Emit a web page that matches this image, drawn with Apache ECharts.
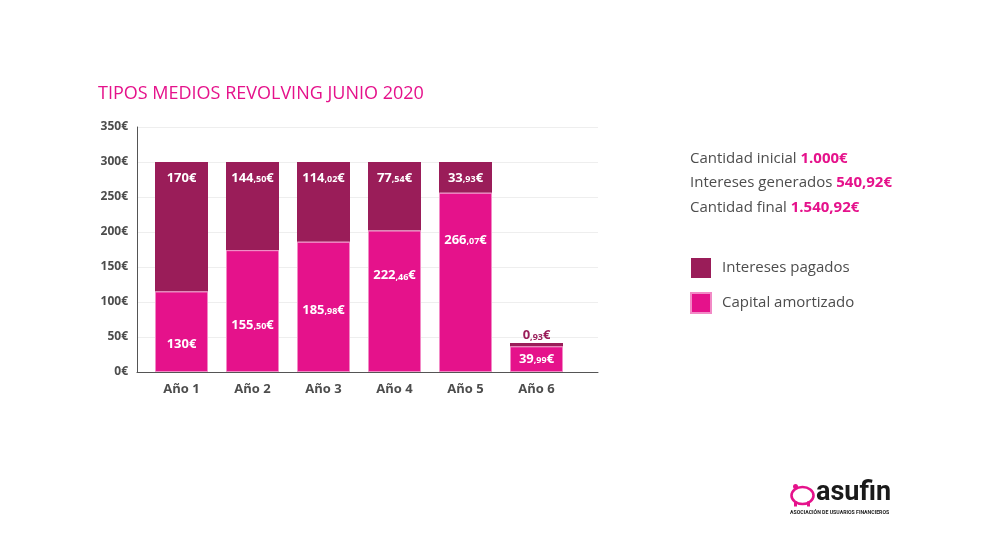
<!DOCTYPE html>
<html>
<head>
<meta charset="utf-8">
<script src="https://cdn.jsdelivr.net/npm/echarts@6/dist/echarts.min.js"></script>
<style>
html,body{margin:0;padding:0;background:#fff;}
#main{width:990px;height:558px;}
</style>
</head>
<body>
<div id="main"></div>
<script>
// ---- data ----
var categories = ['Año 1', 'Año 2', 'Año 3', 'Año 4', 'Año 5', 'Año 6'];
// bar heights as drawn in the picture
var capitalValues = [115, 174, 186, 202, 256, 36.6];
var interesValues = [185, 126, 114, 98, 44, 4.8];
// printed labels
var capitalLabels = ['130', '155,50', '185,98', '222,46', '266,07', '39,99'];
var interesLabels = ['170', '144,50', '114,02', '77,54', '33,93', '0,93'];
var yTicks = [0, 50, 100, 150, 200, 250, 300, 350];
var seriesNames = ['Intereses pagados', 'Capital amortizado'];
var summaryLines = [
  ['Cantidad inicial ', '1.000€'],
  ['Intereses generados ', '540,92€'],
  ['Cantidad final ', '1.540,92€']
];

var PINK = '#e5128b';
var PLUM = '#9a1d59';
var GRAY = '#4d4d4d';
var FONT = 'Open Sans';

function richLabel(s) {
  var parts = s.split(',');
  if (parts.length > 1) return '{a|' + parts[0] + '}{b|,' + parts[1] + '}{a|€}';
  return '{a|' + s + '€}';
}
var whiteRich = {
  a: {color: '#fff', fontSize: 13, fontWeight: 'bold', fontFamily: FONT},
  b: {color: '#fff', fontSize: 9, fontWeight: 'bold', fontFamily: FONT, padding: [3, 0, 0, 0]}
};
var plumRich = {
  a: {color: PLUM, fontSize: 13, fontWeight: 'bold', fontFamily: FONT},
  b: {color: PLUM, fontSize: 9, fontWeight: 'bold', fontFamily: FONT, padding: [3, 0, 0, 0]}
};

// label vertical offsets inside capital bars (pixels from bar top)
var capOffsets = [53, 75, 68, 45, 47, 13];

var capData = capitalValues.map(function (v, i) {
  return {
    value: v,
    label: {
      position: ['50%', capOffsets[i]],
      align: 'center', verticalAlign: 'middle',
      formatter: richLabel(capitalLabels[i]), rich: whiteRich
    }
  };
});
var intData = interesValues.map(function (v, i) {
  if (i === 5) {
    return {
      value: v,
      label: {position: 'top', distance: 1, formatter: richLabel(interesLabels[i]), rich: plumRich}
    };
  }
  return {
    value: v,
    label: {
      position: ['50%', 16],
      align: 'center', verticalAlign: 'middle',
      formatter: richLabel(interesLabels[i]), rich: whiteRich
    }
  };
});

var graphics = summaryLines.map(function (l, i) {
  return {
    type: 'text', left: 690, top: 151 + i * 24.5,
    style: {
      rich: {
        n: {fontSize: 15, fontFamily: FONT, fill: GRAY},
        v: {fontSize: 15, fontFamily: FONT, fontWeight: 'bold', fill: PINK}
      },
      text: '{n|' + l[0] + '}{v|' + l[1] + '}'
    }
  };
});
// logo
graphics.push({
  type: 'group', left: 789, top: 484,
  children: [
    {type: 'ellipse', shape: {cx: 13, cy: 11, rx: 11, ry: 8.5}, style: {fill: 'none', stroke: PINK, lineWidth: 2.6}},
    {type: 'circle', shape: {cx: 6, cy: 2, r: 2.5}, style: {fill: PINK}},
    {type: 'line', shape: {x1: 6, y1: 17, x2: 6, y2: 22}, style: {stroke: PINK, lineWidth: 3}},
    {type: 'line', shape: {x1: 19, y1: 17, x2: 19, y2: 22}, style: {stroke: PINK, lineWidth: 3}}
  ]
});
graphics.push({
  type: 'text', left: 816, top: 480,
  style: {text: 'asufin', fontSize: 27, fontWeight: 'bold', fontFamily: 'Roboto', fill: '#1a1a1a'}
});
graphics.push({
  type: 'text', left: 790, top: 510,
  style: {text: 'ASOCIACIÓN DE USUARIOS FINANCIEROS', fontSize: 5.2, fontWeight: 'bold', fontFamily: 'Roboto', fill: '#1a1a1a'}
});

var chart = echarts.init(document.getElementById('main'));
chart.setOption({
  backgroundColor: '#fff',
  animation: false,
  title: {
    text: 'TIPOS MEDIOS REVOLVING JUNIO 2020',
    left: 93, top: 80,
    textStyle: {color: PINK, fontSize: 18, fontWeight: 'normal', fontFamily: FONT}
  },
  legend: {
    data: seriesNames,
    orient: 'vertical', left: 690, top: 258, padding: 0,
    itemWidth: 20, itemHeight: 20, itemGap: 14, icon: 'rect',
    textStyle: {color: GRAY, fontSize: 15, fontFamily: FONT, padding: [0, 0, 0, 6]}
  },
  grid: [
    {left: 146, top: 127, width: 426, height: 245},
    {left: 137, top: 127, width: 461, height: 245}
  ],
  xAxis: [
    {
      type: 'category', gridIndex: 0, data: categories,
      axisLine: {show: false}, axisTick: {show: false},
      axisLabel: {color: GRAY, fontSize: 13, fontWeight: 'bold', fontFamily: FONT, margin: 11}
    },
    {
      type: 'value', gridIndex: 1, min: 0, max: 1,
      axisLine: {show: true, lineStyle: {color: '#555', width: 1}},
      axisTick: {show: false}, axisLabel: {show: false}, splitLine: {show: false}
    }
  ],
  yAxis: [
    {type: 'value', gridIndex: 0, min: 0, max: 350, show: false},
    {
      type: 'value', gridIndex: 1, min: 0, max: 350, interval: 50,
      axisLine: {show: true, lineStyle: {color: '#555', width: 1}},
      axisTick: {show: false},
      splitLine: {lineStyle: {color: '#eeeeee'}},
      axisLabel: {
        color: GRAY, fontSize: 12, fontWeight: 'bold', fontFamily: FONT, margin: 9,
        formatter: function (v) { return yTicks.indexOf(v) >= 0 ? v + '€' : ''; }
      }
    }
  ],
  graphic: graphics,
  series: [
    {
      name: seriesNames[1], type: 'bar', stack: 't', xAxisIndex: 0, yAxisIndex: 0,
      barWidth: 53, z: 3,
      itemStyle: {color: PINK, borderColor: '#f28ac6', borderWidth: 1},
      label: {show: true},
      data: capData
    },
    {
      name: seriesNames[0], type: 'bar', stack: 't', xAxisIndex: 0, yAxisIndex: 0,
      barWidth: 53, z: 2,
      itemStyle: {color: PLUM},
      label: {show: true},
      data: intData
    }
  ]
});
</script>
</body>
</html>
